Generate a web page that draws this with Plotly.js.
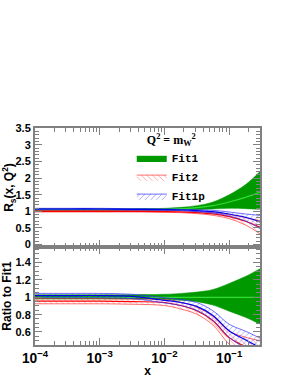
<!DOCTYPE html>
<html>
<head>
<meta charset="utf-8">
<script src="https://cdn.plot.ly/plotly-3.0.1.min.js"></script>
<style>html,body{margin:0;padding:0;background:#fff;}#chart{width:298px;height:385px;}</style>
</head>
<body>
<div id="chart"></div>
<script>
// x grid (Bjorken x)
const xs = [1e-4, 3.16e-4, 1e-3, 3.16e-3, 1e-2, 1.78e-2, 3.16e-2, 5.62e-2, 0.1, 0.178, 0.3];

// Top panel: R_s(x, Q^2)
const fit1Mid = [1.05, 1.05, 1.05, 1.05, 1.06, 1.08, 1.11, 1.17, 1.28, 1.42, 1.58];
const fit1Hi  = [1.08, 1.08, 1.08, 1.08, 1.09, 1.12, 1.17, 1.28, 1.50, 1.80, 2.20];
const fit1Lo  = [1.02, 1.02, 1.02, 1.02, 1.03, 1.04, 1.05, 1.07, 1.09, 1.08, 1.06];

const fit2Mid = [1.00, 1.00, 1.00, 1.00, 0.99, 0.98, 0.96, 0.92, 0.84, 0.70, 0.52];
const fit2Hi  = [1.02, 1.02, 1.02, 1.02, 1.01, 1.00, 0.99, 0.96, 0.90, 0.81, 0.72];
const fit2Lo  = [0.98, 0.98, 0.98, 0.98, 0.97, 0.96, 0.93, 0.88, 0.78, 0.59, 0.32];

const fit1pMid = [1.07, 1.07, 1.07, 1.06, 1.05, 1.04, 1.02, 0.99, 0.92, 0.82, 0.68];
const fit1pHi  = [1.09, 1.09, 1.09, 1.08, 1.07, 1.06, 1.05, 1.03, 0.98, 0.92, 0.88];
const fit1pLo  = [1.05, 1.05, 1.05, 1.04, 1.03, 1.02, 0.99, 0.95, 0.86, 0.71, 0.48];

// Bottom panel: ratio to Fit1
const r1Mid = [1, 1, 1, 1, 1, 1, 1, 1, 1, 1, 1];
const r1Hi  = [1.03, 1.03, 1.03, 1.03, 1.035, 1.045, 1.06, 1.09, 1.16, 1.24, 1.33];
const r1Lo  = [0.98, 0.98, 0.98, 0.98, 0.975, 0.965, 0.95, 0.91, 0.84, 0.77, 0.69];

const r2Mid = [0.955, 0.955, 0.955, 0.95, 0.94, 0.905, 0.845, 0.73, 0.535, 0.43, 0.33];
const r2Hi  = [0.985, 0.985, 0.985, 0.98, 0.975, 0.945, 0.885, 0.78, 0.61, 0.54, 0.50];
const r2Lo  = [0.925, 0.925, 0.925, 0.92, 0.905, 0.865, 0.805, 0.68, 0.46, 0.32, 0.16];

const r1pMid = [1.02, 1.02, 1.02, 1.01, 0.965, 0.94, 0.895, 0.79, 0.615, 0.51, 0.42];
const r1pHi  = [1.045, 1.045, 1.045, 1.035, 0.995, 0.975, 0.94, 0.845, 0.69, 0.61, 0.53];
const r1pLo  = [0.995, 0.995, 0.995, 0.985, 0.935, 0.905, 0.85, 0.735, 0.54, 0.41, 0.31];

const names = ['Fit1', 'Fit2', 'Fit1p'];

function band(lo, hi, mid, style, name, xa, ya, showleg) {
  const common = {x: xs, xaxis: xa, yaxis: ya, mode: 'lines', legendgroup: name, hoverinfo: 'skip'};
  const loT = Object.assign({}, common, {y: lo, showlegend: false,
    line: {color: style.edge, width: style.edgeW, shape: 'spline'}});
  const hiT = Object.assign({}, common, {y: hi, name: name, showlegend: showleg, fill: 'tonexty',
    line: {color: style.edge, width: style.edgeW, shape: 'spline'}});
  if (style.pattern) {
    hiT.fillcolor = 'rgba(0,0,0,0)';
    hiT.fillpattern = {shape: style.pattern, fgcolor: style.color, fgopacity: 0.6, size: 4, solidity: 0.15};
  } else {
    hiT.fillcolor = style.color;
  }
  const midT = Object.assign({}, common, {y: mid, showlegend: false,
    line: {color: style.mid, width: 1.2, shape: 'spline'}});
  return [loT, hiT, midT];
}

const sGreen = {color: '#009900', edge: '#009900', edgeW: 0.5, mid: '#33dd33'};
const sRed = {color: '#ff2020', edge: '#ff3030', edgeW: 0.7, mid: '#ff0000', pattern: '\\'};
const sBlue = {color: '#2020ff', edge: '#3030ff', edgeW: 0.7, mid: '#0000ee', pattern: '/'};

const data = [].concat(
  band(fit1Lo, fit1Hi, fit1Mid, sGreen, names[0], 'x', 'y', true),
  band(fit2Lo, fit2Hi, fit2Mid, sRed, names[1], 'x', 'y', true),
  band(fit1pLo, fit1pHi, fit1pMid, sBlue, names[2], 'x', 'y', true),
  band(r1Lo, r1Hi, r1Mid, sGreen, names[0], 'x2', 'y2', false),
  band(r2Lo, r2Hi, r2Mid, sRed, names[1], 'x2', 'y2', false),
  band(r1pLo, r1pHi, r1pMid, sBlue, names[2], 'x2', 'y2', false)
);

const axColor = '#808080';
const tickFont = {family: 'Liberation Sans, Arial, sans-serif', size: 11, color: '#000', weight: 'bold'};
const titleFont = {family: 'Liberation Sans, Arial, sans-serif', size: 12, color: '#000', weight: 'bold'};
const split = 98 / 217;

const baseAx = {
  showline: true, linecolor: axColor, linewidth: 2, mirror: 'allticks',
  ticks: 'inside', ticklen: 7, tickwidth: 1, tickcolor: axColor,
  showgrid: false, zeroline: false, tickfont: tickFont
};

const xBase = Object.assign({}, baseAx, {
  type: 'log', range: [-4, Math.log10(0.3)], dtick: 1, exponentformat: 'power', showexponent: 'all',
  minor: {ticks: 'inside', ticklen: 4, dtick: 'D1', tickcolor: axColor, showgrid: false}
});

const layout = {
  width: 298, height: 385,
  margin: {l: 35, r: 38, t: 128, b: 40},
  paper_bgcolor: '#fff', plot_bgcolor: '#fff',
  showlegend: true,
  legend: {
    x: 0.43, y: 1.0, xanchor: 'left', yanchor: 'top',
    bgcolor: 'rgba(0,0,0,0)', borderwidth: 0,
    font: {family: 'Liberation Mono, Courier New, monospace', size: 11, color: '#000', weight: 'bold'},
    title: {text: 'Q<sup>2</sup> = m<sub>W</sub><sup>2</sup>', side: 'top center',
            font: {family: 'Liberation Serif, Times New Roman, serif', size: 12, color: '#000', weight: 'bold'}},
    itemwidth: 30, tracegroupgap: 0
  },
  xaxis: Object.assign({}, xBase, {anchor: 'y', domain: [0, 1], showticklabels: false}),
  xaxis2: Object.assign({}, xBase, {anchor: 'y2', domain: [0, 1], matches: 'x',
    title: {text: 'x', font: titleFont, standoff: 2}}),
  yaxis: Object.assign({}, baseAx, {domain: [split, 1], range: [-0.075, 3.51], dtick: 0.5,
    minor: {ticks: 'inside', ticklen: 4, dtick: 0.1, tickcolor: axColor, showgrid: false},
    title: {text: 'R<sub>s</sub>(x, Q<sup>2</sup>)', font: titleFont, standoff: 1}}),
  yaxis2: Object.assign({}, baseAx, {domain: [0, split], range: [0.45, 1.58], dtick: 0.2,
    minor: {ticks: 'inside', ticklen: 4, dtick: 0.05, tickcolor: axColor, showgrid: false},
    title: {text: 'Ratio to Fit1', font: titleFont, standoff: 1}})
};

Plotly.newPlot('chart', data, layout, {staticPlot: true, displayModeBar: false});
</script>
</body>
</html>
